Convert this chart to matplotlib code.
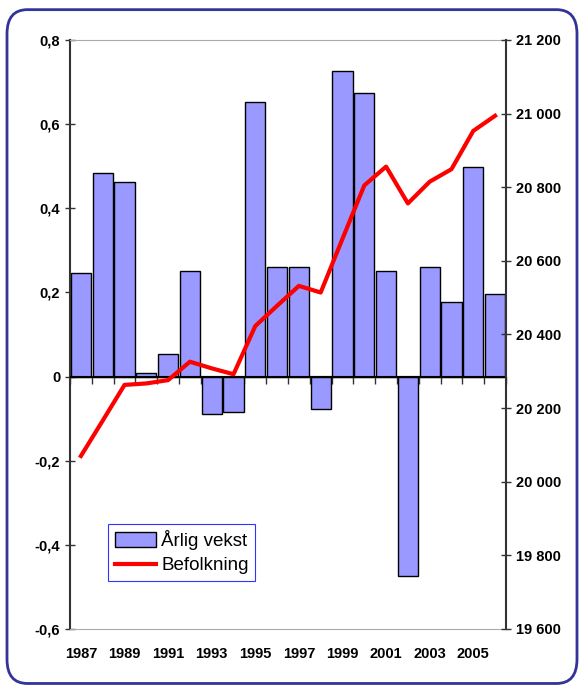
import numpy as np
import matplotlib
matplotlib.use("Agg")
import matplotlib.pyplot as plt
from matplotlib.patches import FancyBboxPatch
from matplotlib.ticker import FuncFormatter

plt.rcParams['font.family'] = ['Liberation Sans', 'DejaVu Sans']

# Data
years = list(range(1987, 2007))
vekst = [0.245, 0.484, 0.462, 0.008, 0.053, 0.25, -0.09, -0.085, 0.652, 0.26,
         0.26, -0.078, 0.727, 0.674, 0.25, -0.475, 0.26, 0.177, 0.498, 0.196]
befolkning = [20070, 20166, 20263, 20267, 20276, 20326, 20308, 20292, 20423, 20478,
              20532, 20514, 20660, 20805, 20856, 20756, 20815, 20849, 20953, 20994]
year_labels = [str(y) for y in years[::2]]

fig = plt.figure(figsize=(5.84, 6.89), dpi=100)

# rounded outer frame
frame = FancyBboxPatch((0.012, 0.008), 0.976, 0.978, transform=fig.transFigure,
                       boxstyle="round,pad=0,rounding_size=0.035",
                       facecolor='white', edgecolor='#333399', linewidth=2,
                       zorder=-10)
fig.patches.append(frame)

ax = fig.add_axes([0.1199, 0.0871, 0.7465, 0.8549])
ax.set_facecolor('none')
x = np.arange(len(years))
ax.bar(x, vekst, width=0.92, color='#9999FF', edgecolor='black', linewidth=1,
       label='Årlig vekst', zorder=2)
ax.axhline(0, color='black', linewidth=1.5, zorder=4)
ax.set_xlim(-0.5, len(years) - 0.5)
ax.set_ylim(-0.6, 0.8)
ax.set_yticks(np.arange(-0.6, 0.81, 0.2))
ax.yaxis.set_major_formatter(FuncFormatter(
    lambda v, p: '0' if abs(v) < 1e-9 else f'{v:.1f}'.replace('.', ',')))
ax.set_xticks(x[::2])
ax.set_xticklabels(year_labels)
ax.tick_params(axis='x', length=0, pad=13)
ax.tick_params(axis='y', direction='inout', length=7, width=1, color='#333333')
for lab in ax.get_xticklabels() + ax.get_yticklabels():
    lab.set_fontweight('bold')
    lab.set_fontsize(10.5)

ax.spines['top'].set_color('#aaaaaa')
ax.spines['bottom'].set_color('#aaaaaa')
ax.spines['left'].set_color('#333333')
ax.spines['left'].set_linewidth(1.5)
ax.spines['right'].set_visible(False)

# zero axis with category ticks
zero = 0.6 / 1.4
sec = ax.secondary_xaxis(zero)
sec.set_xticks(np.arange(-0.5, len(years), 1.0))
sec.tick_params(axis='x', direction='out', length=5, width=1, labelbottom=False,
                labeltop=False, color='#333333')
sec.xaxis.set_ticks_position('bottom')
sec.spines['bottom'].set_linewidth(1.5)
sec.spines['bottom'].set_color('black')
for s in ['top', 'left', 'right']:
    sec.spines[s].set_visible(False)
sec.set_xticklabels([])

ax2 = ax.twinx()
line, = ax2.plot(x, befolkning, color='#FF0000', linewidth=3, label='Befolkning', zorder=3)
ax2.set_ylim(19600, 21200)
ax2.set_yticks(np.arange(19600, 21201, 200))
ax2.yaxis.set_major_formatter(FuncFormatter(
    lambda v, p: f'{int(v):,}'.replace(',', ' ')))
ax2.tick_params(axis='y', direction='inout', length=7, width=1, color='#333333')
for lab in ax2.get_yticklabels():
    lab.set_fontweight('bold')
    lab.set_fontsize(10.5)
for s in ['top', 'bottom', 'left']:
    ax2.spines[s].set_visible(False)
ax2.spines['right'].set_color('#333333')
ax2.spines['right'].set_linewidth(1.5)

h1, l1 = ax.get_legend_handles_labels()
leg = ax2.legend(h1 + [line], l1 + ['Befolkning'], loc='lower left',
                 bbox_to_anchor=(0.087, 0.0815), borderaxespad=0, fontsize=13.5,
                 frameon=True, fancybox=False, handlelength=2.2, handleheight=0.8,
                 handletextpad=0.3, borderpad=0.35, labelspacing=0.35)
leg.get_frame().set_edgecolor('#0000FF')
leg.get_frame().set_linewidth(0.8)

fig.savefig('out.png', dpi=100)
